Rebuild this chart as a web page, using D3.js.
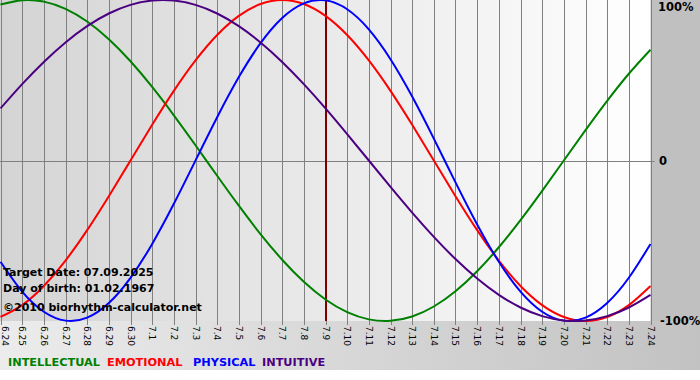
<!DOCTYPE html>
<html><head><meta charset="utf-8">
<script src="https://cdn.jsdelivr.net/npm/d3@7"></script>
<style>html,body{margin:0;padding:0;background:#fff;}svg{display:block;}</style>
</head><body>
<script>
const dayLabels = ["6.24","6.25","6.26","6.27","6.28","6.29","6.30","7.1","7.2","7.3","7.4","7.5","7.6","7.7","7.8","7.9","7.10","7.11","7.12","7.13","7.14","7.15","7.16","7.17","7.18","7.19","7.20","7.21","7.22","7.23","7.24"];
const intellectual = [0.9718,0.9989,0.9898,0.9450,0.8660,0.7557,0.6182,0.4582,0.2817,0.0951,-0.0951,-0.2817,-0.4582,-0.6182,-0.7557,-0.8660,-0.9450,-0.9898,-0.9989,-0.9718,-0.9096,-0.8146,-0.6901,-0.5406,-0.3717,-0.1893,0,0.1893,0.3717,0.5406,0.6901];
const emotional = [-0.9749,-0.9010,-0.7818,-0.6235,-0.4339,-0.2225,0,0.2225,0.4339,0.6235,0.7818,0.9010,0.9749,1,0.9749,0.9010,0.7818,0.6235,0.4339,0.2225,0,-0.2225,-0.4339,-0.6235,-0.7818,-0.9010,-0.9749,-1,-0.9749,-0.9010,-0.7818];
const physical = [-0.6311,-0.8170,-0.9423,-0.9977,-0.9791,-0.8879,-0.7308,-0.5196,-0.2698,0,0.2698,0.5196,0.7308,0.8879,0.9791,0.9977,0.9423,0.8170,0.6311,0.3984,0.1362,-0.1362,-0.3984,-0.6311,-0.8170,-0.9423,-0.9977,-0.9791,-0.8879,-0.7308,-0.5196];
const intuitive = [0.3247,0.4759,0.6142,0.7357,0.8372,0.9158,0.9694,0.9966,0.9966,0.9694,0.9158,0.8372,0.7357,0.6142,0.4759,0.3247,0.1646,0,-0.1646,-0.3247,-0.4759,-0.6142,-0.7357,-0.8372,-0.9158,-0.9694,-0.9966,-0.9966,-0.9694,-0.9158,-0.8372];
const seriesNames = ["INTELLECTUAL","EMOTIONAL","PHYSICAL","INTUITIVE"];
const yTickLabels = ["100%","0","-100%"];
const yTickValues = [1,0,-1];
const targetIndex = 15;
const infoLines = ["Target Date: 07.09.2025","Day of birth: 01.02.1967","©2010 biorhythm-calculator.net"];

const W=700,H=380;
const plotL=0.5, plotR=650.5, plotT=0, plotB=321;
const colors = {INTELLECTUAL:"#008000",EMOTIONAL:"#ff0000",PHYSICAL:"#0000ff",INTUITIVE:"#4b0082"};
const seriesData = {INTELLECTUAL:intellectual,EMOTIONAL:emotional,PHYSICAL:physical,INTUITIVE:intuitive};

const svg = d3.select("body").append("svg").attr("width",W).attr("height",H);
const defs = svg.append("defs");
const g1 = defs.append("linearGradient").attr("id","bg").attr("x1","0").attr("x2","1").attr("y1","0").attr("y2","0");
g1.append("stop").attr("offset","0").attr("stop-color","#ececec");
g1.append("stop").attr("offset","1").attr("stop-color","#c2c2c2");
const g2 = defs.append("linearGradient").attr("id","plotbg").attr("x1","0").attr("x2","1").attr("y1","0").attr("y2","0");
g2.append("stop").attr("offset","0").attr("stop-color","#d4d4d4");
g2.append("stop").attr("offset","1").attr("stop-color","#ffffff");

svg.append("rect").attr("x",0).attr("y",0).attr("width",W).attr("height",370).attr("fill","url(#bg)");
svg.append("rect").attr("x",plotR).attr("y",0).attr("width",W-plotR).attr("height",plotB).attr("fill","#c0c0c0");
svg.append("rect").attr("x",0).attr("y",370).attr("width",W).attr("height",10).attr("fill","#ffffff");

const x = d3.scaleLinear().domain([0,dayLabels.length-1]).range([plotL,plotR]);
const y = d3.scaleLinear().domain([-1,1]).range([plotB,plotT]);

svg.append("rect").attr("x",0).attr("y",plotT).attr("width",plotR).attr("height",plotB-plotT).attr("fill","url(#plotbg)");

// vertical grid
svg.append("g").selectAll("line").data(dayLabels).join("line")
  .attr("x1",(d,i)=>Math.round(x(i))+0.5).attr("x2",(d,i)=>Math.round(x(i))+0.5)
  .attr("y1",plotT).attr("y2",plotB+4)
  .attr("stroke","#808080").attr("stroke-width",1);
// zero line
svg.append("line").attr("x1",0).attr("x2",plotR+4).attr("y1",Math.round(y(0))+0.5).attr("y2",Math.round(y(0))+0.5)
  .attr("stroke","#808080").attr("stroke-width",1);

// x labels
svg.append("g").selectAll("text").data(dayLabels).join("text")
  .attr("transform",(d,i)=>`translate(${Math.max(Math.round(x(i))-3,2)},${plotB+5}) rotate(90)`)
  .attr("font-family","DejaVu Sans").attr("font-size",9).attr("fill","#000")
  .text(d=>d);

// y labels
svg.append("g").selectAll("text").data(yTickValues).join("text")
  .attr("x",(d,i)=> [658,659,660][i]).attr("y",d=>Math.min(Math.max(y(d),7),321)+4)
  .attr("font-family","DejaVu Sans").attr("font-weight","bold").attr("font-size",11.5).attr("fill","#000")
  .text((d,i)=>yTickLabels[i]);

// target line
svg.append("line").attr("x1",Math.round(x(targetIndex))).attr("x2",Math.round(x(targetIndex)))
  .attr("y1",plotT).attr("y2",plotB).attr("stroke","#800000").attr("stroke-width",2);

// curves
const line = d3.line().x((d,i)=>x(i)).y(d=>y(d)).curve(d3.curveNatural);
const order = ["INTELLECTUAL","EMOTIONAL","PHYSICAL","INTUITIVE"];
const clip = defs.append("clipPath").attr("id","pc");
clip.append("rect").attr("x",0).attr("y",-2).attr("width",plotR+1).attr("height",plotB+4);
const cg = svg.append("g").attr("clip-path","url(#pc)");
order.forEach(n=>{
  cg.append("path").attr("d",line(seriesData[n])).attr("fill","none")
    .attr("stroke",colors[n]).attr("stroke-width",2);
});

// info text
svg.append("g").selectAll("text").data(infoLines).join("text")
  .attr("x",3).attr("y",(d,i)=>[276,292,311][i])
  .attr("font-family","DejaVu Sans").attr("font-weight","bold").attr("font-size",11).attr("fill","#000")
  .text(d=>d);

// legend
const legX = [8,107,193,262];
svg.append("g").selectAll("text").data(seriesNames).join("text")
  .attr("x",(d,i)=>legX[i]).attr("y",366)
  .attr("font-family","DejaVu Sans").attr("font-weight","bold").attr("font-size",11.3)
  .attr("fill",d=>colors[d]).text(d=>d);
</script>
</body></html>
